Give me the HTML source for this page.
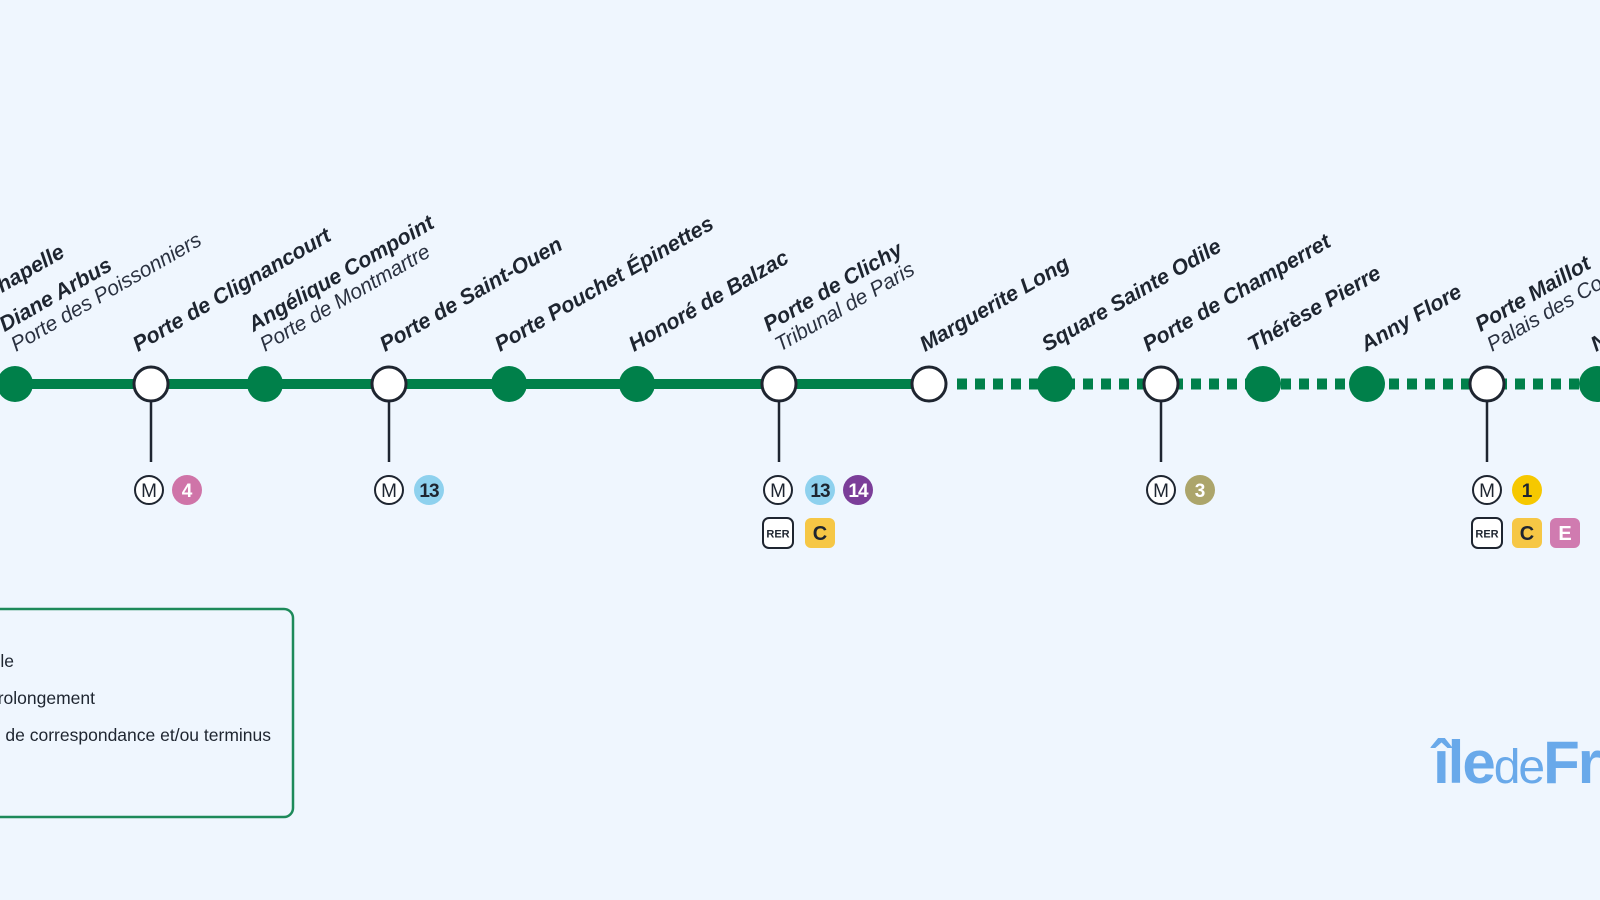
<!DOCTYPE html>
<html><head><meta charset="utf-8"><style>
html,body{margin:0;padding:0;background:#eff6fe;}
svg{display:block;}
.b{font-family:"Liberation Sans",sans-serif;font-weight:bold;font-style:italic;font-size:21.5px;fill:#1e2530;}
.s{font-family:"Liberation Sans",sans-serif;font-style:italic;font-size:21px;fill:#2a3140;}
.ic{font-family:"Liberation Sans",sans-serif;font-weight:bold;text-anchor:middle;}
.lg{font-family:"Liberation Sans",sans-serif;font-size:17.5px;fill:#1e2530;text-anchor:end;}
</style></head><body>
<svg width="1600" height="900" viewBox="0 0 1600 900" xmlns="http://www.w3.org/2000/svg">
<rect width="1600" height="900" fill="#eff6fe"/>
<line x1="-10" y1="384" x2="929" y2="384" stroke="#00804a" stroke-width="10"/>
<line x1="957" y1="384" x2="1600" y2="384" stroke="#00804a" stroke-width="11" stroke-dasharray="10 8"/>
<g stroke="#1e2530" stroke-width="2.5">
<line x1="151" y1="400" x2="151" y2="462"/>
<line x1="389" y1="400" x2="389" y2="462"/>
<line x1="779" y1="400" x2="779" y2="462"/>
<line x1="1161" y1="400" x2="1161" y2="462"/>
<line x1="1487" y1="400" x2="1487" y2="462"/>
</g>
<g fill="#00804a">
<circle cx="15" cy="384" r="18"/><circle cx="265" cy="384" r="18"/><circle cx="509" cy="384" r="18"/><circle cx="637" cy="384" r="18"/>
<circle cx="1055" cy="384" r="18"/><circle cx="1263" cy="384" r="18"/><circle cx="1367" cy="384" r="18"/><circle cx="1597" cy="384" r="18"/>
</g>
<g fill="#fff" stroke="#1e2530" stroke-width="3">
<circle cx="151" cy="384" r="17"/><circle cx="389" cy="384" r="17"/><circle cx="779" cy="384" r="17"/><circle cx="929" cy="384" r="17"/>
<circle cx="1161" cy="384" r="17"/><circle cx="1487" cy="384" r="17"/>
</g>
<text class="b" text-anchor="end" transform="translate(66,256) rotate(-30)">Porte de la Chapelle</text>
<g transform="translate(16,352) rotate(-30)"><text class="b" y="-23">Diane Arbus</text><text class="s">Porte des Poissonniers</text></g>
<text class="b" transform="translate(138,352) rotate(-30)">Porte de Clignancourt</text>
<g transform="translate(265,352) rotate(-30)"><text class="b" y="-23">Angélique Compoint</text><text class="s">Porte de Montmartre</text></g>
<text class="b" transform="translate(385,352) rotate(-30)">Porte de Saint-Ouen</text>
<text class="b" transform="translate(500,352) rotate(-30)">Porte Pouchet Épinettes</text>
<text class="b" transform="translate(634,352) rotate(-30)">Honoré de Balzac</text>
<g transform="translate(780,352) rotate(-30)"><text class="b" y="-23">Porte de Clichy</text><text class="s">Tribunal de Paris</text></g>
<text class="b" transform="translate(925,352) rotate(-30)">Marguerite Long</text>
<text class="b" transform="translate(1047,352) rotate(-30)">Square Sainte Odile</text>
<text class="b" transform="translate(1148,352) rotate(-30)">Porte de Champerret</text>
<text class="b" transform="translate(1253,352) rotate(-30)">Thérèse Pierre</text>
<text class="b" transform="translate(1366,352) rotate(-30)">Anny Flore</text>
<g transform="translate(1492,352) rotate(-30)"><text class="b" y="-23">Porte Maillot</text><text class="s">Palais des Congrès</text></g>
<text class="b" transform="translate(1596,352) rotate(-30)">Neuilly</text>
<defs>
<g id="m"><circle r="14" fill="#fff" stroke="#1e2530" stroke-width="2"/><text class="ic" y="7" font-size="19" fill="#1e2530" style="font-weight:normal">M</text></g>
<g id="rer"><rect x="-15" y="-15" width="30" height="30" rx="6" fill="#fff" stroke="#1e2530" stroke-width="2"/><text class="ic" y="4.5" font-size="11" fill="#1e2530">RER</text></g>
</defs>
<use href="#m" x="149" y="490"/>
<circle cx="187" cy="490" r="15" fill="#cf74a8"/><text class="ic" x="187" y="497" font-size="19" fill="#fff">4</text>
<use href="#m" x="389" y="490"/>
<circle cx="429" cy="490" r="15" fill="#8ed1ee"/><text class="ic" x="429" y="497" font-size="19" fill="#1e2530" letter-spacing="-1">13</text>
<use href="#m" x="778" y="490"/>
<circle cx="820" cy="490" r="15" fill="#8ed1ee"/><text class="ic" x="820" y="497" font-size="19" fill="#1e2530" letter-spacing="-1">13</text>
<circle cx="858" cy="490" r="15" fill="#7b3e99"/><text class="ic" x="858" y="497" font-size="19" fill="#fff" letter-spacing="-1">14</text>
<use href="#rer" x="778" y="533"/>
<rect x="805" y="518" width="30" height="30" rx="6" fill="#f6c745"/><text class="ic" x="820" y="540" font-size="20" fill="#1e2530">C</text>
<use href="#m" x="1161" y="490"/>
<circle cx="1200" cy="490" r="15" fill="#aca56b"/><text class="ic" x="1200" y="497" font-size="19" fill="#fff">3</text>
<use href="#m" x="1487" y="490"/>
<circle cx="1527" cy="490" r="15" fill="#f6c800"/><text class="ic" x="1527" y="497" font-size="19" fill="#1e2530">1</text>
<use href="#rer" x="1487" y="533"/>
<rect x="1512" y="518" width="30" height="30" rx="6" fill="#f6c745"/><text class="ic" x="1527" y="540" font-size="20" fill="#1e2530">C</text>
<rect x="1550" y="518" width="30" height="30" rx="6" fill="#d07bb0"/><text class="ic" x="1565" y="540" font-size="20" fill="#fff">E</text>
<rect x="-20" y="609" width="313" height="208" rx="9" fill="none" stroke="#1d8a5a" stroke-width="2.5"/>
<text class="lg" x="14" y="667">Ligne actuelle</text>
<text class="lg" x="95" y="704">Prolongement</text>
<text class="lg" x="271" y="741">Station de correspondance et/ou terminus</text>
<text x="1433" y="783" font-family="Liberation Sans,sans-serif" fill="#69a9ea" font-size="60" letter-spacing="-2"><tspan font-weight="bold">île</tspan><tspan font-size="48">de</tspan><tspan font-weight="bold">France</tspan></text>
</svg>
</body></html>
